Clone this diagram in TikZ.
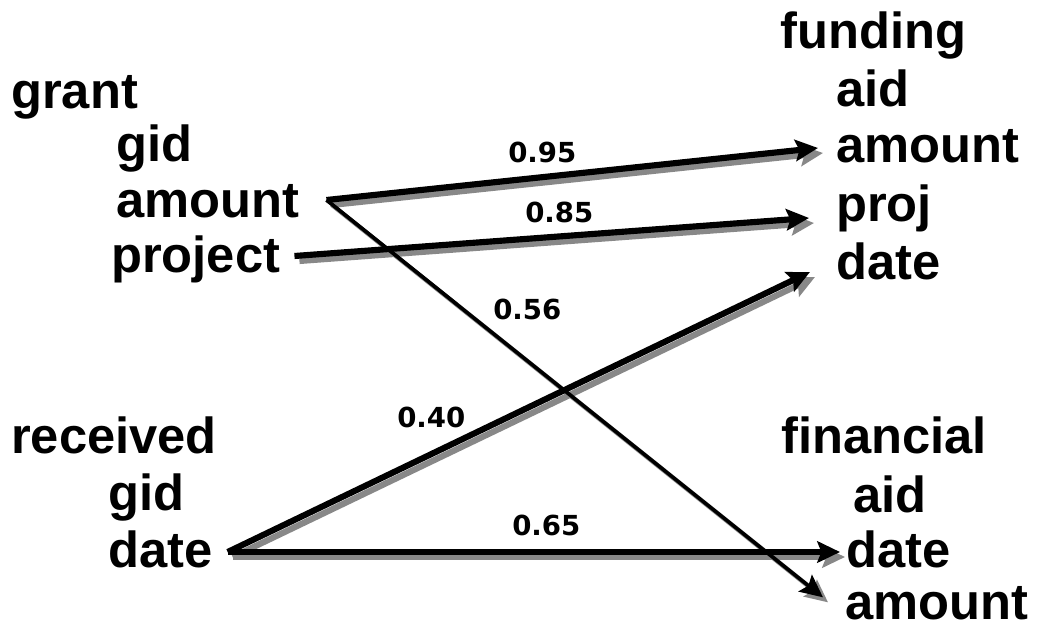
\documentclass[tikz,border=0pt]{standalone}
\usepackage{fontspec}
\setmainfont{Liberation Sans}
\newfontfamily\lblfont{DejaVu Sans}
\usetikzlibrary{arrows.meta,calc}
\definecolor{shadowgray}{HTML}{888888}
\newcommand\linkarrow[3]{%
  \draw[conn,#1,draw=shadowgray,fill=shadowgray,transform canvas={shift={(3.75pt,-3.75pt)}}] #2 -- #3;}
\newcommand\linkline[3]{%
  \draw[conn,#1] #2 -- #3;}
\begin{document}
\begin{tikzpicture}[x=0.75pt,y=-0.75pt,
  attr/.style={anchor=base west,inner sep=0pt,font=\fontsize{38}{40}\selectfont\bfseries,text height=28pt,text depth=7pt},
  lbl/.style={anchor=base west,inner sep=0pt,font=\lblfont\fontsize{20.7}{24}\selectfont\bfseries},
  conn/.style={-{Stealth[length=17pt,width=16pt,inset=3pt]}},
  widew/.style={line width=4.6pt},
  narroww/.style={line width=2.8pt}
]
\useasboundingbox (0,0) rectangle (1043,627);
% left tables
\node[attr] (grant) at (11,109) {grant};
\node[attr] (ggid) at (116,162) {gid};
\node[attr] (gamount) at (116,218) {amount};
\node[attr] (gproject) at (111,273) {project};
\node[attr] (received) at (11,453) {received};
\node[attr] (rgid) at (108,510) {gid};
\node[attr] (rdate) at (108,567) {date};
% right tables
\node[attr] (funding) at (780,49) {funding};
\node[attr] (faid) at (836,107) {aid};
\node[attr] (famount) at (836,163) {amount};
\node[attr] (fproj) at (836,222) {proj};
\node[attr] (fdate) at (836,280) {date};
\node[attr] (financial) at (781,453) {financial};
\node[attr] (finaid) at (853,512) {aid};
\node[attr] (findate) at (846,567) {date};
\node[attr,text depth=0pt] (finamount) at (845,619) {amount};
% endpoints
\path ($(gamount.east)+(27,-4)$) coordinate (s1)
      ($(gproject.east)+(14,-3)$) coordinate (s2)
      ($(rdate.east)+(15,-1)$) coordinate (s3)
      ($(famount.west)+(-18,-1)$) coordinate (t1)
      ($(fproj.west)+(-27,10)$) coordinate (t2)
      ($(fdate.west)+(-26,6)$) coordinate (t3)
      ($(findate.west)+(-6,-1)$) coordinate (t4)
      ($(finamount.west)+(-22,-3)$) coordinate (t5);
% shadows
\linkarrow{widew}{(s1)}{(t1)}
\linkarrow{widew}{(s2)}{(t2)}
\linkarrow{widew}{(s3)}{(t3)}
\linkarrow{widew}{(s3)}{(t4)}
\linkarrow{narroww}{(s1)}{(t5)}
% black lines
\linkline{widew}{(s1)}{(t1)}
\linkline{widew}{(s2)}{(t2)}
\linkline{widew}{(s3)}{(t3)}
\linkline{widew}{(s3)}{(t4)}
\linkline{narroww}{(s1)}{(t5)}
% labels
\node[lbl] (l95) at (508,163) {0.95};
\node[lbl] (l85) at (525,223) {0.85};
\node[lbl] (l56) at (493,320) {0.56};
\node[lbl] (l40) at (397,427) {0.40};
\node[lbl] (l65) at (512,535) {0.65};
\end{tikzpicture}
\end{document}
